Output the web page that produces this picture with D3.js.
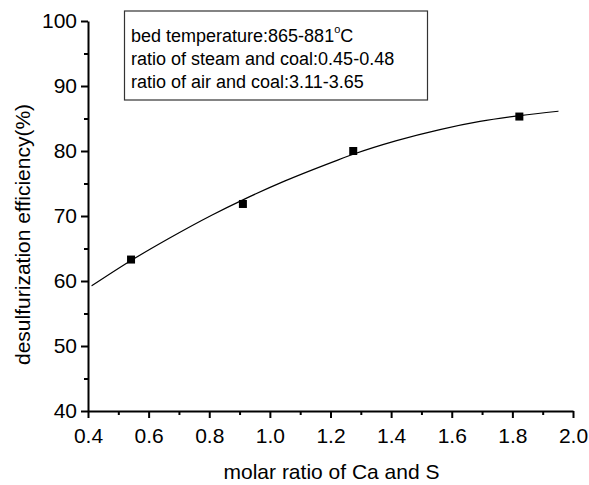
<!DOCTYPE html>
<html>
<head>
<meta charset="utf-8">
<script src="https://cdn.jsdelivr.net/npm/d3@7"></script>
<style>
  html, body { margin: 0; padding: 0; background: #fff; }
  svg { display: block; }
  text { font-family: "Liberation Sans", Arial, sans-serif; fill: #000; }
</style>
</head>
<body>
<svg id="chart" width="589" height="485"></svg>
<script>
// Measured points
const ratioCaS = [0.542, 0.911, 1.275, 1.823];
const efficiency = [63.3, 71.85, 80.0, 85.3];

// Fitted curve
const fitX = [0.412, 0.542, 0.665, 0.808, 0.918, 1.05, 1.215, 1.275, 1.418, 1.561, 1.693, 1.825, 1.952];
const fitY = [59.25, 63.15, 66.5, 70.12, 72.64, 75.4, 78.45, 79.5, 81.6, 83.3, 84.55, 85.45, 86.12];

const xTicks = [0.4, 0.6, 0.8, 1.0, 1.2, 1.4, 1.6, 1.8, 2.0];
const xMinor = [0.5, 0.7, 0.9, 1.1, 1.3, 1.5, 1.7, 1.9];
const yTicks = [40, 50, 60, 70, 80, 90, 100];
const yMinor = [45, 55, 65, 75, 85, 95];

const infoLines = ["bed temperature:865-881", "ratio of steam and coal:0.45-0.48", "ratio of air and coal:3.11-3.65"];

const svg = d3.select("#chart");
const mLeft = 88, mRight = 573, mTop = 21, mBottom = 411;

const x = d3.scaleLinear().domain([0.4, 2.0]).range([mLeft, mRight]);
const y = d3.scaleLinear().domain([40, 100]).range([mBottom, mTop]);

// minor ticks
svg.append("g").attr("transform", `translate(0,${mBottom})`)
  .call(d3.axisBottom(x).tickValues(xMinor).tickSize(4).tickFormat("").tickSizeOuter(0))
  .call(g => g.select(".domain").remove())
  .call(g => g.selectAll("line").attr("stroke", "#000").attr("stroke-width", 2));
svg.append("g").attr("transform", `translate(${mLeft},0)`)
  .call(d3.axisLeft(y).tickValues(yMinor).tickSize(4).tickFormat("").tickSizeOuter(0))
  .call(g => g.select(".domain").remove())
  .call(g => g.selectAll("line").attr("stroke", "#000").attr("stroke-width", 2));

// major axes
const xAxis = svg.append("g").attr("transform", `translate(0,${mBottom})`)
  .call(d3.axisBottom(x).tickValues(xTicks).tickSize(7).tickPadding(10).tickSizeOuter(0).tickFormat(d3.format(".1f")));
const yAxis = svg.append("g").attr("transform", `translate(${mLeft},0)`)
  .call(d3.axisLeft(y).tickValues(yTicks).tickSize(7).tickPadding(4).tickSizeOuter(0).tickFormat(d3.format("d")));
[xAxis, yAxis].forEach(g => {
  g.select(".domain").attr("stroke", "#000").attr("stroke-width", 2);
  g.selectAll(".tick line").attr("stroke", "#000").attr("stroke-width", 2);
  g.selectAll(".tick text").attr("font-size", 21).attr("font-family", "Liberation Sans, Arial, sans-serif").attr("fill", "#000");
});

// axis titles
svg.append("text").attr("x", (mLeft + mRight) / 2 + 1).attr("y", 479)
  .attr("text-anchor", "middle").attr("font-size", 21)
  .text("molar ratio of Ca and S");
svg.append("text").attr("transform", "translate(30,365) rotate(-90)")
  .attr("text-anchor", "start").attr("font-size", 21)
  .text("desulfurization efficiency(%)");

// fitted curve
const fit = fitX.map((d, i) => [d, fitY[i]]);
svg.append("path").datum(fit)
  .attr("fill", "none").attr("stroke", "#000").attr("stroke-width", 1.2)
  .attr("d", d3.line().x(d => x(d[0])).y(d => y(d[1])).curve(d3.curveMonotoneX));

// markers
const pts = ratioCaS.map((d, i) => [d, efficiency[i]]);
svg.append("g").selectAll("rect").data(pts).join("rect")
  .attr("x", d => x(d[0]) - 4).attr("y", d => y(d[1]) - 4)
  .attr("width", 8).attr("height", 8).attr("fill", "#000");

// info box
svg.append("rect").attr("x", 124.5).attr("y", 11).attr("width", 303).attr("height", 89)
  .attr("fill", "none").attr("stroke", "#333").attr("stroke-width", 1.2);
const baselines = [41.5, 64.8, 88];
infoLines.forEach((t, i) => {
  const tx = svg.append("text").attr("x", 131).attr("y", baselines[i]).attr("font-size", 18).text(t);
  if (i === 0) {
    tx.append("tspan").attr("font-size", 11).attr("dy", -9).text("o");
    tx.append("tspan").attr("font-size", 18).attr("dy", 9).text("C");
  }
});
</script>
</body>
</html>
